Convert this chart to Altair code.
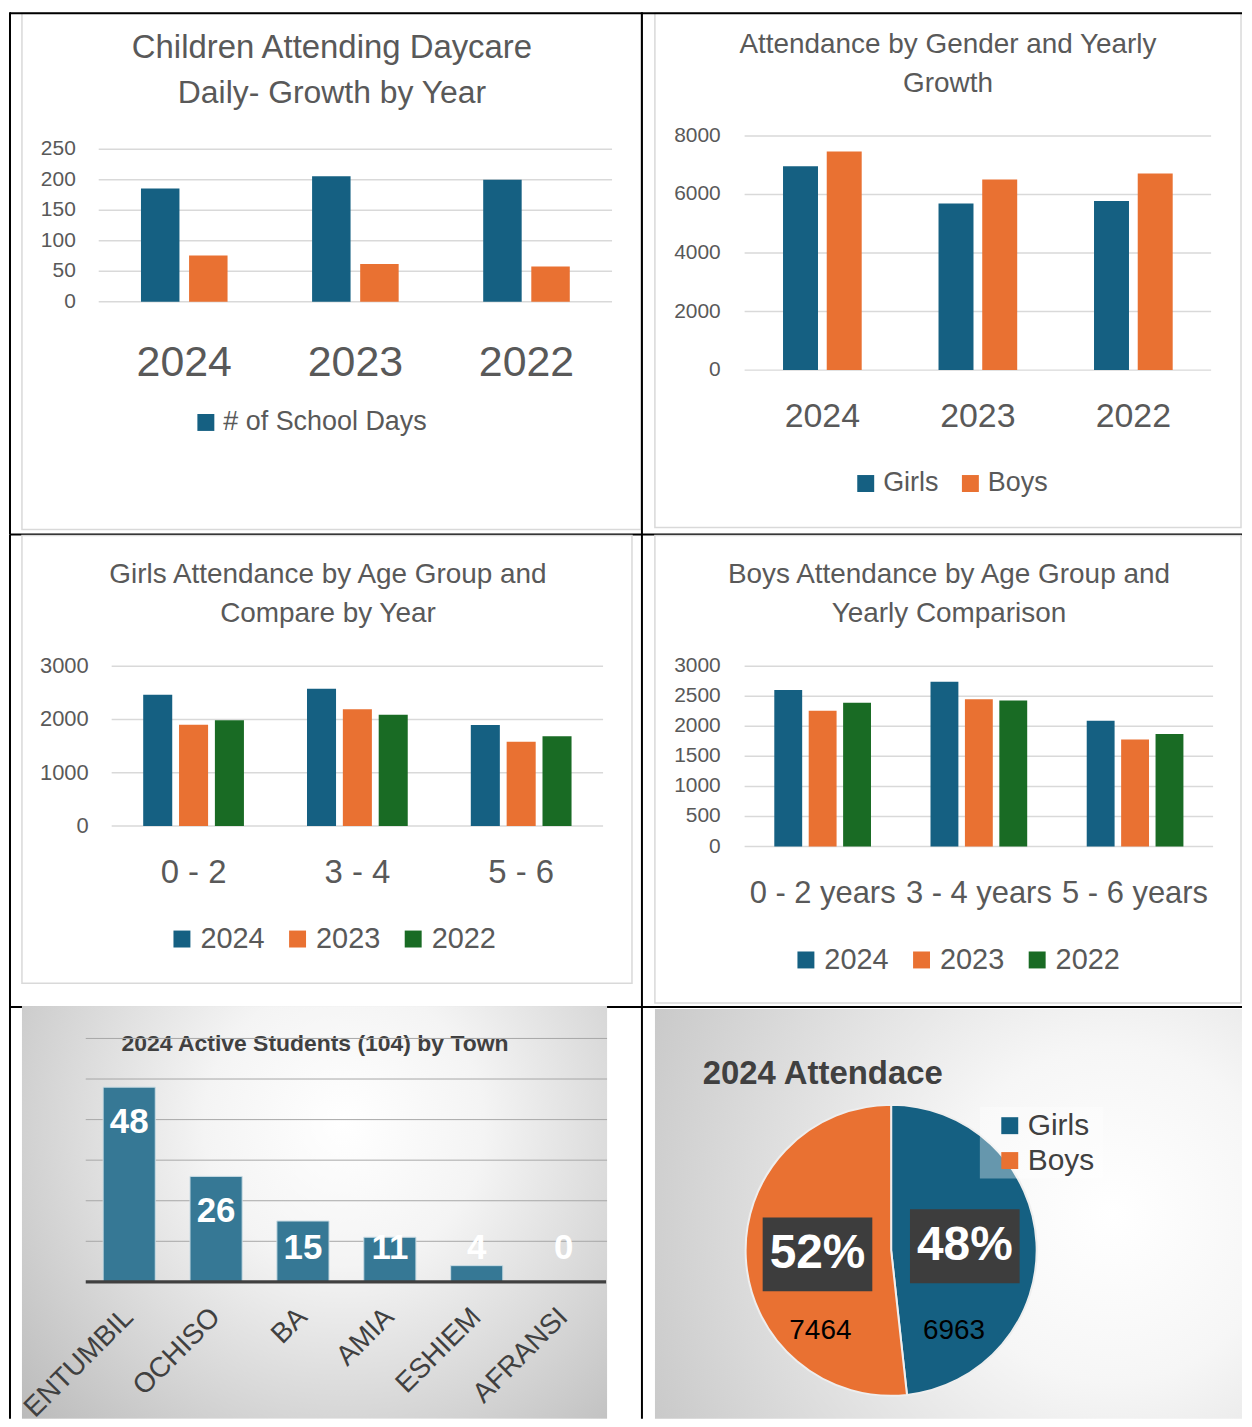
import math
import altair as alt
import pandas as pd

# ---------------- data ----------------
YEARS = ["2024", "2023", "2022"]
SCHOOL_DAYS = [186, 206, 200]
DAILY_CHILDREN = [76, 62, 58]          # orange series (not shown in legend)
P1_TICKS = [0, 50, 100, 150, 200, 250]

GENDERS = ["Girls", "Boys"]
GIRLS_TOTAL = [6963, 5690, 5780]
BOYS_TOTAL = [7464, 6510, 6715]
P2_TICKS = [0, 2000, 4000, 6000, 8000]

AGE_GIRLS = ["0 - 2", "3 - 4", "5 - 6"]
GIRLS_2024 = [2463, 2575, 1896]
GIRLS_2023 = [1900, 2190, 1583]
GIRLS_2022 = [1985, 2090, 1684]
P3_TICKS = [0, 1000, 2000, 3000]

AGE_BOYS = ["0 - 2 years", "3 - 4 years", "5 - 6 years"]
BOYS_2024 = [2602, 2740, 2094]
BOYS_2023 = [2260, 2448, 1779]
BOYS_2022 = [2392, 2431, 1873]
P4_TICKS = [0, 500, 1000, 1500, 2000, 2500, 3000]

TOWNS = ["ENTUMBIL", "OCHISO", "BA", "AMIA", "ESHIEM", "AFRANSI"]
TOWN_STUDENTS = [48, 26, 15, 11, 4, 0]
P5_GRID = [10, 20, 30, 40, 50, 60]

PIE_LABELS = ["Girls", "Boys"]
PIE_VALUES = [6963, 7464]

# ---------------- style ----------------
BLUE, ORANGE, GREEN = "#156082", "#E97132", "#196B24"
TXT = "#595959"
DARK = "#404040"
GRID = "#D9D9D9"
FONT = "Liberation Sans"
NARROW = "'Liberation Sans Narrow', 'Arial Narrow', 'Liberation Sans', sans-serif"
ONE = alt.Data(values=[{}])


def rect(x0, y0, x1, y1, fill="white", stroke=None, sw=0, opacity=1.0):
    kw = dict(fill=fill, opacity=opacity)
    if stroke:
        kw.update(stroke=stroke, strokeWidth=sw)
    return alt.Chart(ONE).mark_rect(**kw).encode(
        x=alt.value(x0), x2=alt.value(x1), y=alt.value(y0), y2=alt.value(y1))


def vline(x, y0, y1, color="black", w=2):
    return alt.Chart(ONE).mark_rule(color=color, strokeWidth=w).encode(
        x=alt.value(x), y=alt.value(y0), y2=alt.value(y1))


def hline(y, x0, x1, color="black", w=2):
    return alt.Chart(ONE).mark_rule(color=color, strokeWidth=w).encode(
        y=alt.value(y), x=alt.value(x0), x2=alt.value(x1))


def label(text, x, y, size, color=TXT, font=FONT, weight="normal", align="center"):
    return alt.Chart(ONE).mark_text(
        text=text, font=font, fontSize=size, fontWeight=weight, color=color,
        align=align, baseline="middle").encode(x=alt.value(x), y=alt.value(y))


def grouped(cats, names, values, colors, ticks, ymax, yr, xr, pin, pout, opad,
            tick_x, tick_size, cat_y, cat_size, leg, legend_values=None):
    rows = []
    for s, vals in zip(names, values):
        for c, v in zip(cats, vals):
            rows.append({"cat": c, "series": s, "value": v})
    df = pd.DataFrame(rows)
    xs = alt.Scale(domain=cats, range=xr, paddingInner=pin, paddingOuter=pout)
    ys = alt.Scale(domain=[0, ymax], range=yr, nice=False, zero=True)
    tdf = pd.DataFrame({"t": ticks})
    grid = alt.Chart(tdf).mark_rule(color=GRID, strokeWidth=1.5).encode(
        y=alt.Y("t:Q", scale=ys, axis=None), x=alt.value(xr[0]), x2=alt.value(xr[1]))
    tl = alt.Chart(tdf).mark_text(align="right", baseline="middle", font=FONT,
                                  fontSize=tick_size, color=TXT).encode(
        y=alt.Y("t:Q", scale=ys, axis=None), x=alt.value(tick_x),
        text=alt.Text("t:Q", format="d"))
    lkw = dict(orient="none", legendX=leg[0], legendY=leg[1], direction=leg[2],
               title=None, symbolType="square", symbolSize=289, symbolStrokeWidth=0,
               symbolOpacity=1, labelFont=FONT, labelFontSize=leg[3], labelColor=TXT,
               labelOffset=4, columnPadding=leg[4], padding=0, labelLimit=400)
    if legend_values:
        lkw["values"] = legend_values
    bars = alt.Chart(df).mark_bar().encode(
        x=alt.X("cat:N", sort=cats, scale=xs, axis=None),
        xOffset=alt.XOffset("series:N", sort=names,
                            scale=alt.Scale(domain=names, paddingInner=opad, paddingOuter=0)),
        y=alt.Y("value:Q", scale=ys, axis=None),
        color=alt.Color("series:N", sort=names,
                        scale=alt.Scale(domain=names, range=colors),
                        legend=alt.Legend(**lkw)))
    cl = alt.Chart(pd.DataFrame({"cat": cats})).mark_text(
        font=FONT, fontSize=cat_size, color=TXT, baseline="middle").encode(
        x=alt.X("cat:N", sort=cats, scale=xs, axis=None), y=alt.value(cat_y),
        text="cat:N")
    return [grid, tl, bars, cl]


# ---------------- cell A : panel 1 ----------------
WA, HA = 634, 524
cellA = alt.layer(
    rect(12, 1, 633, 519, fill="white", stroke=GRID, sw=1.5),
    label("Children Attending Daycare", 323, 36, 33),
    label("Daily- Growth by Year", 323, 81, 32),
    *grouped(YEARS, ["# of School Days", "Children Daily"], [SCHOOL_DAYS, DAILY_CHILDREN],
             [BLUE, ORANGE], P1_TICKS, 250, [290.5, 137.5], [89, 604], 0.494, 0.247, 0.2,
             66, 21, 352, 43, (183, 398, "horizontal", 27, 18),
             legend_values=["# of School Days"]),
    hline(1, 0, WA), vline(0, 0, HA), vline(WA, 0, HA), hline(HA, 0, WA),
).properties(width=WA, height=HA)

# ---------------- cell B : panel 2 ----------------
WB, HB = 602, 524
cellB = alt.layer(
    rect(13, 1, 601, 517, fill="white", stroke=GRID, sw=1.5),
    label("Attendance by Gender and Yearly", 307, 33, 28),
    label("Growth", 307, 72, 28),
    *grouped(YEARS, GENDERS, [GIRLS_TOTAL, BOYS_TOTAL], [BLUE, ORANGE], P2_TICKS, 8000,
             [359, 124], [103, 571], 0.494, 0.247, 0.2, 79, 21, 406, 34,
             (211, 459, "horizontal", 27, 18)),
    hline(1, 0, WB), hline(HB, 0, WB),
).properties(width=WB, height=HB)

# ---------------- cell C : panel 3 ----------------
WC, HC = 634, 474
cellC = alt.layer(
    rect(12, 1, 624, 450, fill="white", stroke=GRID, sw=1.5),
    label("Girls Attendance by Age Group and", 319, 41, 28),
    label("Compare by Year", 319, 80, 28),
    *grouped(AGE_GIRLS, YEARS, [GIRLS_2024, GIRLS_2023, GIRLS_2022], [BLUE, ORANGE, GREEN],
             P3_TICKS, 3000, [292.3, 132], [102, 595], 0.385, 0.1925, 0.19, 79, 22, 340, 33,
             (158, 391, "horizontal", 29, 18)),
    vline(0, 0, HC), vline(WC, 0, HC), hline(HC, 0, WC),
).properties(width=WC, height=HC)

# ---------------- cell D : panel 4 ----------------
WD, HD = 602, 474
cellD = alt.layer(
    rect(13, 1, 601, 470, fill="white", stroke=GRID, sw=1.5),
    label("Boys Attendance by Age Group and", 308, 41, 28),
    label("Yearly Comparison", 308, 80, 28),
    *grouped(AGE_BOYS, YEARS, [BOYS_2024, BOYS_2023, BOYS_2022], [BLUE, ORANGE, GREEN],
             P4_TICKS, 3000, [313, 132], [103, 573], 0.381, 0.19, 0.19, 79, 21, 361, 31,
             (150, 412, "horizontal", 29, 18)),
    hline(HD, 0, WD),
).properties(width=WD, height=HD)

# ---------------- cell E : panel 5 ----------------
WE, HE = 634, 413
grad5 = alt.RadialGradient(
    gradient="radial",
    stops=[alt.GradientStop(color="#ffffff", offset=0),
           alt.GradientStop(color="#f4f4f4", offset=0.3),
           alt.GradientStop(color="#b4b4b4", offset=1)],
    x1=0.55, y1=0.35, r1=0, x2=0.55, y2=0.35, r2=0.8)
ys5 = alt.Scale(domain=[0, 60], range=[275.7, 31.5], nice=False)
xs5 = alt.Scale(domain=TOWNS, range=[76, 599], paddingInner=0.4, paddingOuter=0.2)
tdf5 = pd.DataFrame({"town": TOWNS, "n": TOWN_STUDENTS})
grid5 = alt.Chart(pd.DataFrame({"t": P5_GRID})).mark_rule(color="#a8a8a8", strokeWidth=1).encode(
    y=alt.Y("t:Q", scale=ys5, axis=None), x=alt.value(76), x2=alt.value(599))
base5 = alt.Chart(pd.DataFrame({"t": [0]})).mark_rule(color=DARK, strokeWidth=3.5).encode(
    y=alt.Y("t:Q", scale=ys5, axis=None), x=alt.value(76), x2=alt.value(598))
bars5 = alt.Chart(tdf5).mark_bar(fill="#367895", stroke="#c9dbe3", strokeWidth=1).encode(
    x=alt.X("town:N", sort=TOWNS, scale=xs5, axis=None),
    y=alt.Y("n:Q", scale=ys5, axis=None))
vals5 = alt.Chart(tdf5).transform_calculate(ly="max(datum.n - 8.6, 8.3)").mark_text(
    font=NARROW, fontSize=35, fontWeight="bold", color="white", baseline="middle").encode(
    x=alt.X("town:N", sort=TOWNS, scale=xs5, axis=None),
    y=alt.Y("ly:Q", scale=ys5, axis=None), text="n:Q")
xl5 = alt.Chart(tdf5).mark_text(
    font=NARROW, fontSize=28, color=DARK, angle=315, align="right", baseline="middle").encode(
    x=alt.X("town:N", sort=TOWNS, scale=xs5, axis=None), y=alt.value(307), text="town:N")
cellE = alt.layer(
    vline(0, 0, HE), vline(WE, 0, HE),
    rect(12, -1, 599, HE, fill=grad5),
    label("2024 Active Students (104) by Town", 306, 37, 23, color=DARK, font=NARROW,
          weight="bold"),
    grid5, bars5, base5, vals5, xl5,
).properties(width=WE, height=HE)

# ---------------- cell F : panel 6 ----------------
WF, HF = 602, 413
CX, CY, R, PR = 250, 244, 146, 74
VALUE_OFFSETS = {"Girls": (63, 81), "Boys": (-71, 81)}
tot = sum(PIE_VALUES)
rows, cum = [], 0
for i, (lab, v) in enumerate(zip(PIE_LABELS, PIE_VALUES)):
    a = 2 * math.pi * (cum + v / 2) / tot
    cum += v
    px, py = CX + PR * math.sin(a), CY - PR * math.cos(a)
    rows.append({"label": lab, "value": v, "idx": i,
                 "pct": f"{round(100 * v / tot)}%",
                 "px": px, "py": py, "bx0": px - 55, "bx1": px + 55,
                 "by0": py - 37, "by1": py + 37,
                 "vx": CX + VALUE_OFFSETS[lab][0], "vy": CY + VALUE_OFFSETS[lab][1]})
pdf = pd.DataFrame(rows)
grad6 = alt.RadialGradient(
    gradient="radial",
    stops=[alt.GradientStop(color="#ffffff", offset=0),
           alt.GradientStop(color="#f6f6f6", offset=0.3),
           alt.GradientStop(color="#c2c2c2", offset=1)],
    x1=0.78, y1=0.5, r1=0, x2=0.78, y2=0.5, r2=0.95)
shadow1 = alt.Chart(ONE).mark_circle(size=math.pi * 153 ** 2, color="black", opacity=0.04).encode(
    x=alt.value(CX + 1), y=alt.value(CY + 2))
shadow2 = alt.Chart(ONE).mark_circle(size=math.pi * 149.5 ** 2, color="black", opacity=0.06).encode(
    x=alt.value(CX + 1), y=alt.value(CY + 2))
pie = alt.Chart(pdf).mark_arc(outerRadius=R, stroke="#eeeeee", strokeWidth=2).encode(
    theta=alt.Theta("value:Q", stack=True),
    order=alt.Order("idx:Q", sort="ascending"),
    color=alt.Color("label:N", sort=PIE_LABELS,
                    scale=alt.Scale(domain=PIE_LABELS, range=[BLUE, ORANGE]),
                    legend=alt.Legend(orient="none", legendX=354, legendY=104,
                                      direction="vertical", title=None,
                                      symbolType="square", symbolSize=289,
                                      symbolStrokeWidth=0, symbolOpacity=1,
                                      labelFont=NARROW, labelFontSize=30,
                                      labelColor=DARK, labelOffset=3,
                                      rowPadding=5, padding=0)),
    x=alt.value(CX), y=alt.value(CY))
boxes = alt.Chart(pdf).mark_rect(fill="#3d3d3d").encode(
    x=alt.X("bx0:Q", scale=None, axis=None), x2="bx1:Q",
    y=alt.Y("by0:Q", scale=None, axis=None), y2="by1:Q")
pct = alt.Chart(pdf).mark_text(font=NARROW, fontSize=48, fontWeight="bold", color="white",
                               baseline="middle").encode(
    x=alt.X("px:Q", scale=None, axis=None), y=alt.Y("py:Q", scale=None, axis=None),
    text="pct:N")
vlab = alt.Chart(pdf).mark_text(font=FONT, fontSize=28, color="black", baseline="middle").encode(
    x=alt.X("vx:Q", scale=None, axis=None), y=alt.Y("vy:Q", scale=None, axis=None),
    text=alt.Text("value:Q", format="d"))
cellF = alt.layer(
    rect(13, 2, WF, HF, fill=grad6),
    label("2024 Attendace", 61, 67, 33, color=DARK, font=NARROW, weight="bold", align="left"),
    shadow1, shadow2, pie,
    rect(339, 100, 463, 172, fill="white", opacity=0.35),
    boxes, pct, vlab,
).properties(width=WF, height=HF)

chart = alt.concat(cellA, cellB, cellC, cellD, cellE, cellF, columns=2, spacing=0,
                   bounds="flush").resolve_scale(
    color="independent", xOffset="independent", x="independent", y="independent"
).resolve_legend(color="independent").properties(padding=0).configure_view(
    stroke="transparent")

chart.save("out.html", embed_options={"renderer": "svg", "actions": False})
